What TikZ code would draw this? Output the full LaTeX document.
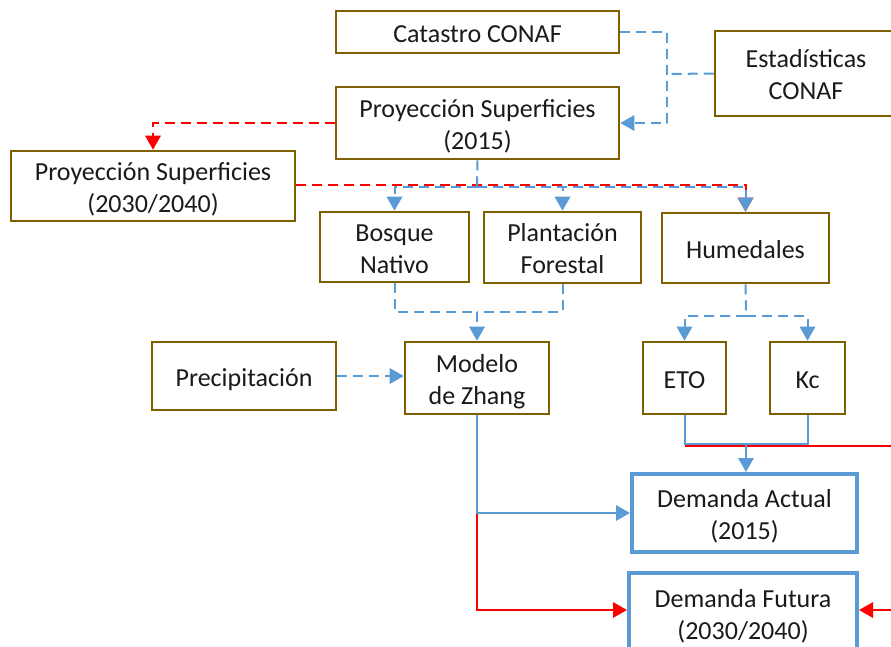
\documentclass[tikz,border=0pt]{standalone}
\usepackage{fontspec}
\setmainfont{Carlito}
\usetikzlibrary{arrows.meta}
\definecolor{boxbrown}{HTML}{7F6000}
\definecolor{flowblue}{HTML}{5B9BD5}
\definecolor{flowred}{HTML}{FF0000}
\definecolor{ink}{HTML}{1A1A1A}

% line strut: ascent 19.5pt, descent 4.5pt (one full 24pt line)
\newcommand\ls{\rule[-4.5pt]{0pt}{24pt}}

\tikzset{
  base/.style={draw, inner sep=0pt, align=center, fill=white,
    font=\fontsize{19.5}{24}\selectfont, text=ink},
  srcbox/.style={base, draw=boxbrown, line width=1.9pt},
  outbox/.style={base, draw=flowblue, line width=3pt},
  link/.style={line width=1.5pt},
  tip/.style={-{Triangle[width=11.5pt,length=10.5pt]}},
  bl/.style={link, draw=flowblue, fill=none, color=flowblue},
  rd/.style={link, draw=flowred, fill=none, color=flowred},
  dsh/.style={dash pattern=on 7.5pt off 4.5pt},
}

\begin{document}
\begin{tikzpicture}[x=0.75pt, y=-0.75pt]
\clip (0,0) rectangle (891,646);

% data sources and intermediate boxes
\node[srcbox, minimum width=212.25pt, minimum height=31.5pt] (cat) at (477.5,32) {\ls Catastro CONAF};
\node[srcbox, minimum width=136.5pt, minimum height=63.75pt] (est) at (806,73.5) {\ls Estadísticas\\CONAF\ls};
\node[srcbox, minimum width=212.25pt, minimum height=54pt] (p15) at (477.5,123) {\ls Proyección Superficies\\(2015)\ls};
\node[srcbox, minimum width=213pt, minimum height=52.5pt] (p30) at (153,186) {\ls Proyección Superficies\\(2030/2040)\ls};
\node[srcbox, minimum width=111.75pt, minimum height=52.5pt] (bos) at (394.5,247) {\ls Bosque\\Nativo\ls};
\node[srcbox, minimum width=117.75pt, minimum height=53.25pt] (pla) at (562.5,247.5) {\ls Plantación\\Forestal\ls};
\node[srcbox, minimum width=125.25pt, minimum height=52.5pt] (hum) at (745.5,248) {\ls Humedales};
\node[srcbox, minimum width=138pt, minimum height=51pt] (pre) at (244,376) {\ls Precipitación};
\node[srcbox, minimum width=108pt, minimum height=54pt] (zha) at (477,378) {\ls Modelo\\de Zhang\ls};
\node[srcbox, minimum width=62.25pt, minimum height=54pt] (eto) at (684.5,378) {\ls ETO};
\node[srcbox, minimum width=56.25pt, minimum height=54pt] (kc) at (807.5,378) {\ls Kc};

% results
\node[outbox, minimum width=168.75pt, minimum height=58.5pt] (da) at (744.5,513) {\ls Demanda Actual\\(2015)\ls};
\node[outbox, minimum width=171pt, minimum height=60pt] (df) at (743,613) {\ls Demanda Futura\\(2030/2040)\ls};

% junction points
\coordinate (bus) at (667,74);
\coordinate (split) at (477,186.5);
\coordinate (fut) at (477,185);
\coordinate (merge) at (477,311.5);
\coordinate (hsplit) at (746,316);
\coordinate (ek) at (746,444);
\coordinate (redE) at (891,446);
\coordinate (redF) at (891,610);

% sources feeding the 2015 projection
\draw[bl, dsh, tip] (cat.east) -| (bus) |- (p15.east);
\draw[bl, dsh] (est.west) -- (bus);

% future projection branch
\draw[rd, dsh, tip] (p15.west) -| (p30.north);
\draw[rd, dsh, tip] (p30.east |- fut) -| (hum.north);

% 2015 projection split into land covers
\draw[bl, dsh] (p15.south) -- (split);
\draw[bl, dsh, tip] (split) -| (bos.north);
\draw[bl, dsh, tip] (split) -| (pla.north);
\draw[bl, dsh, tip] (split) -| (hum.north);

% forest covers into Zhang model
\draw[bl, dsh] (bos.south) |- (merge);
\draw[bl, dsh] (pla.south) |- (merge);
\draw[bl, dsh, tip] (merge) -- (zha.north);
\draw[bl, dsh, tip] (pre.east) -- (pre.east -| zha.west);

% wetlands into ETO and Kc
\draw[bl, dsh] (hum.south) -- (hsplit);
\draw[bl, dsh, tip] (hsplit) -| (eto.north);
\draw[bl, dsh, tip] (hsplit) -| (kc.north);

% ETO and Kc into current demand
\draw[rd] (eto.south |- redE) -- (redE);
\draw[bl] (eto.south) |- (ek);
\draw[bl] (kc.south) |- (ek);
\draw[bl, tip] (ek) -- (ek |- da.north);

% Zhang model into demands
\draw[rd, tip] (zha.south |- da.west) |- (df.west |- redF);
\draw[bl, tip] (zha.south) |- (da.west);
\draw[rd, tip] (redF) -- (redF -| df.east);
\end{tikzpicture}
\end{document}
